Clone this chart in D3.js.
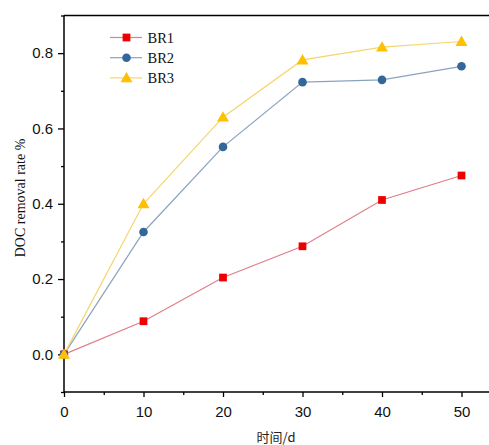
<!DOCTYPE html>
<html>
<head>
<meta charset="utf-8">
<script src="https://cdn.jsdelivr.net/npm/d3@7"></script>
<style>
  html, body { margin: 0; padding: 0; background: #fff; }
  svg { display: block; }
</style>
</head>
<body>
<svg id="chart" width="489" height="445"></svg>
<script>
// Sampling days and DOC removal for three bioreactors
const days = [0, 10, 20, 30, 40, 50];
const br1 = [0.0, 0.088, 0.204, 0.287, 0.410, 0.475];
const br2 = [0.0, 0.325, 0.551, 0.723, 0.729, 0.765];
const br3 = [0.0, 0.400, 0.630, 0.782, 0.816, 0.831];
const seriesNames = ["BR1", "BR2", "BR3"];
const xTicks = [0, 10, 20, 30, 40, 50];
const yTicks = [0.0, 0.2, 0.4, 0.6, 0.8];

const styles = {
  BR1: { line: "#df7f88", fill: "#ee0000", symbol: d3.symbolSquare, size: 60 },
  BR2: { line: "#8aa3bd", fill: "#336699", symbol: d3.symbolCircle, size: 58 },
  BR3: { line: "#f6d56f", fill: "#ffc000", symbol: d3.symbolTriangle, size: 62 }
};

const svg = d3.select("#chart");
const plotLeft = 64, plotTop = 15.5, plotBottom = 392;

const x = d3.scaleLinear().domain([0, 55]).range([plotLeft, plotLeft + 55 * 7.95]);
const y = d3.scaleLinear().domain([-0.1, 0.9]).range([plotBottom, plotTop]);

const series = [br1, br2, br3].map((vals, i) => ({
  name: seriesNames[i],
  points: days.map((d, j) => ({ d, v: vals[j] }))
}));

// Frame: top border line
svg.append("line")
  .attr("x1", plotLeft).attr("x2", 489)
  .attr("y1", plotTop).attr("y2", plotTop)
  .attr("stroke", "#000").attr("stroke-width", 1.5);

// X axis with minor ticks
const xMinor = d3.axisBottom(x).tickValues([5, 15, 25, 35, 45, 55]).tickSize(3).tickFormat("");
const xMajor = d3.axisBottom(x).tickValues(xTicks).tickSize(5).tickPadding(9).tickFormat(d3.format("d"));
svg.append("g").attr("transform", `translate(0,${plotBottom})`).call(xMinor)
  .call(g => g.select(".domain").remove())
  .selectAll("line").attr("stroke-width", 1.3);
const gx = svg.append("g").attr("transform", `translate(0,${plotBottom})`).call(xMajor);
gx.select(".domain").attr("d", `M${plotLeft},0H${489 + 20}`).attr("stroke-width", 1.5);
gx.selectAll("line").attr("stroke-width", 1.3);
gx.selectAll("text").attr("font-family", "'Liberation Sans', Arial, sans-serif")
  .attr("font-size", 15).attr("fill", "#111");

// Y axis with minor ticks
const yMinor = d3.axisLeft(y).tickValues([-0.1, 0.1, 0.3, 0.5, 0.7, 0.9]).tickSize(3).tickFormat("");
const yMajor = d3.axisLeft(y).tickValues(yTicks).tickSize(6).tickPadding(5).tickFormat(d3.format(".1f"));
svg.append("g").attr("transform", `translate(${plotLeft},0)`).call(yMinor)
  .call(g => g.select(".domain").remove())
  .selectAll("line").attr("stroke-width", 1.3);
const gy = svg.append("g").attr("transform", `translate(${plotLeft},0)`).call(yMajor);
gy.select(".domain").attr("d", `M0,${plotTop}V${plotBottom}`).attr("stroke-width", 1.5);
gy.selectAll("line").attr("stroke-width", 1.3);
gy.selectAll("text").attr("font-family", "'Liberation Sans', Arial, sans-serif")
  .attr("font-size", 15).attr("fill", "#111");

// Axis titles
svg.append("text")
  .attr("transform", `translate(25,198) rotate(-90)`)
  .attr("text-anchor", "middle")
  .attr("font-family", "'Liberation Serif', 'Times New Roman', serif")
  .attr("font-size", 14).attr("fill", "#111")
  .text("DOC removal rate %");

svg.append("text")
  .attr("x", 276).attr("y", 442)
  .attr("text-anchor", "middle")
  .attr("font-family", "'Noto Sans CJK SC', sans-serif")
  .attr("font-size", 13).attr("fill", "#222")
  .text("时间/d");

// Lines and markers
const line = d3.line().x(p => x(p.d)).y(p => y(p.v));
series.forEach(s => {
  const st = styles[s.name];
  svg.append("path").datum(s.points)
    .attr("d", line).attr("fill", "none")
    .attr("stroke", st.line).attr("stroke-width", 1.2);
});
series.forEach(s => {
  const st = styles[s.name];
  svg.append("g").selectAll("path").data(s.points).join("path")
    .attr("transform", p => `translate(${x(p.d)},${y(p.v) + (st.symbol === d3.symbolTriangle ? 1 : 0)})`)
    .attr("d", d3.symbol().type(st.symbol).size(st.size))
    .attr("fill", st.fill);
});

// Legend
const legend = svg.append("g");
seriesNames.forEach((name, i) => {
  const st = styles[name];
  const ly = 37.5 + i * 20.2;
  legend.append("line").attr("x1", 110).attr("x2", 142).attr("y1", ly).attr("y2", ly)
    .attr("stroke", st.line).attr("stroke-width", 1.2);
  legend.append("path")
    .attr("transform", `translate(126.5,${ly + (st.symbol === d3.symbolTriangle ? 1 : 0)})`)
    .attr("d", d3.symbol().type(st.symbol).size(st.size))
    .attr("fill", st.fill);
  legend.append("text").attr("x", 147.5).attr("y", ly + 5)
    .attr("font-family", "'Liberation Serif', 'Times New Roman', serif")
    .attr("font-size", 14.5).attr("fill", "#111")
    .text(name);
});
</script>
</body>
</html>
